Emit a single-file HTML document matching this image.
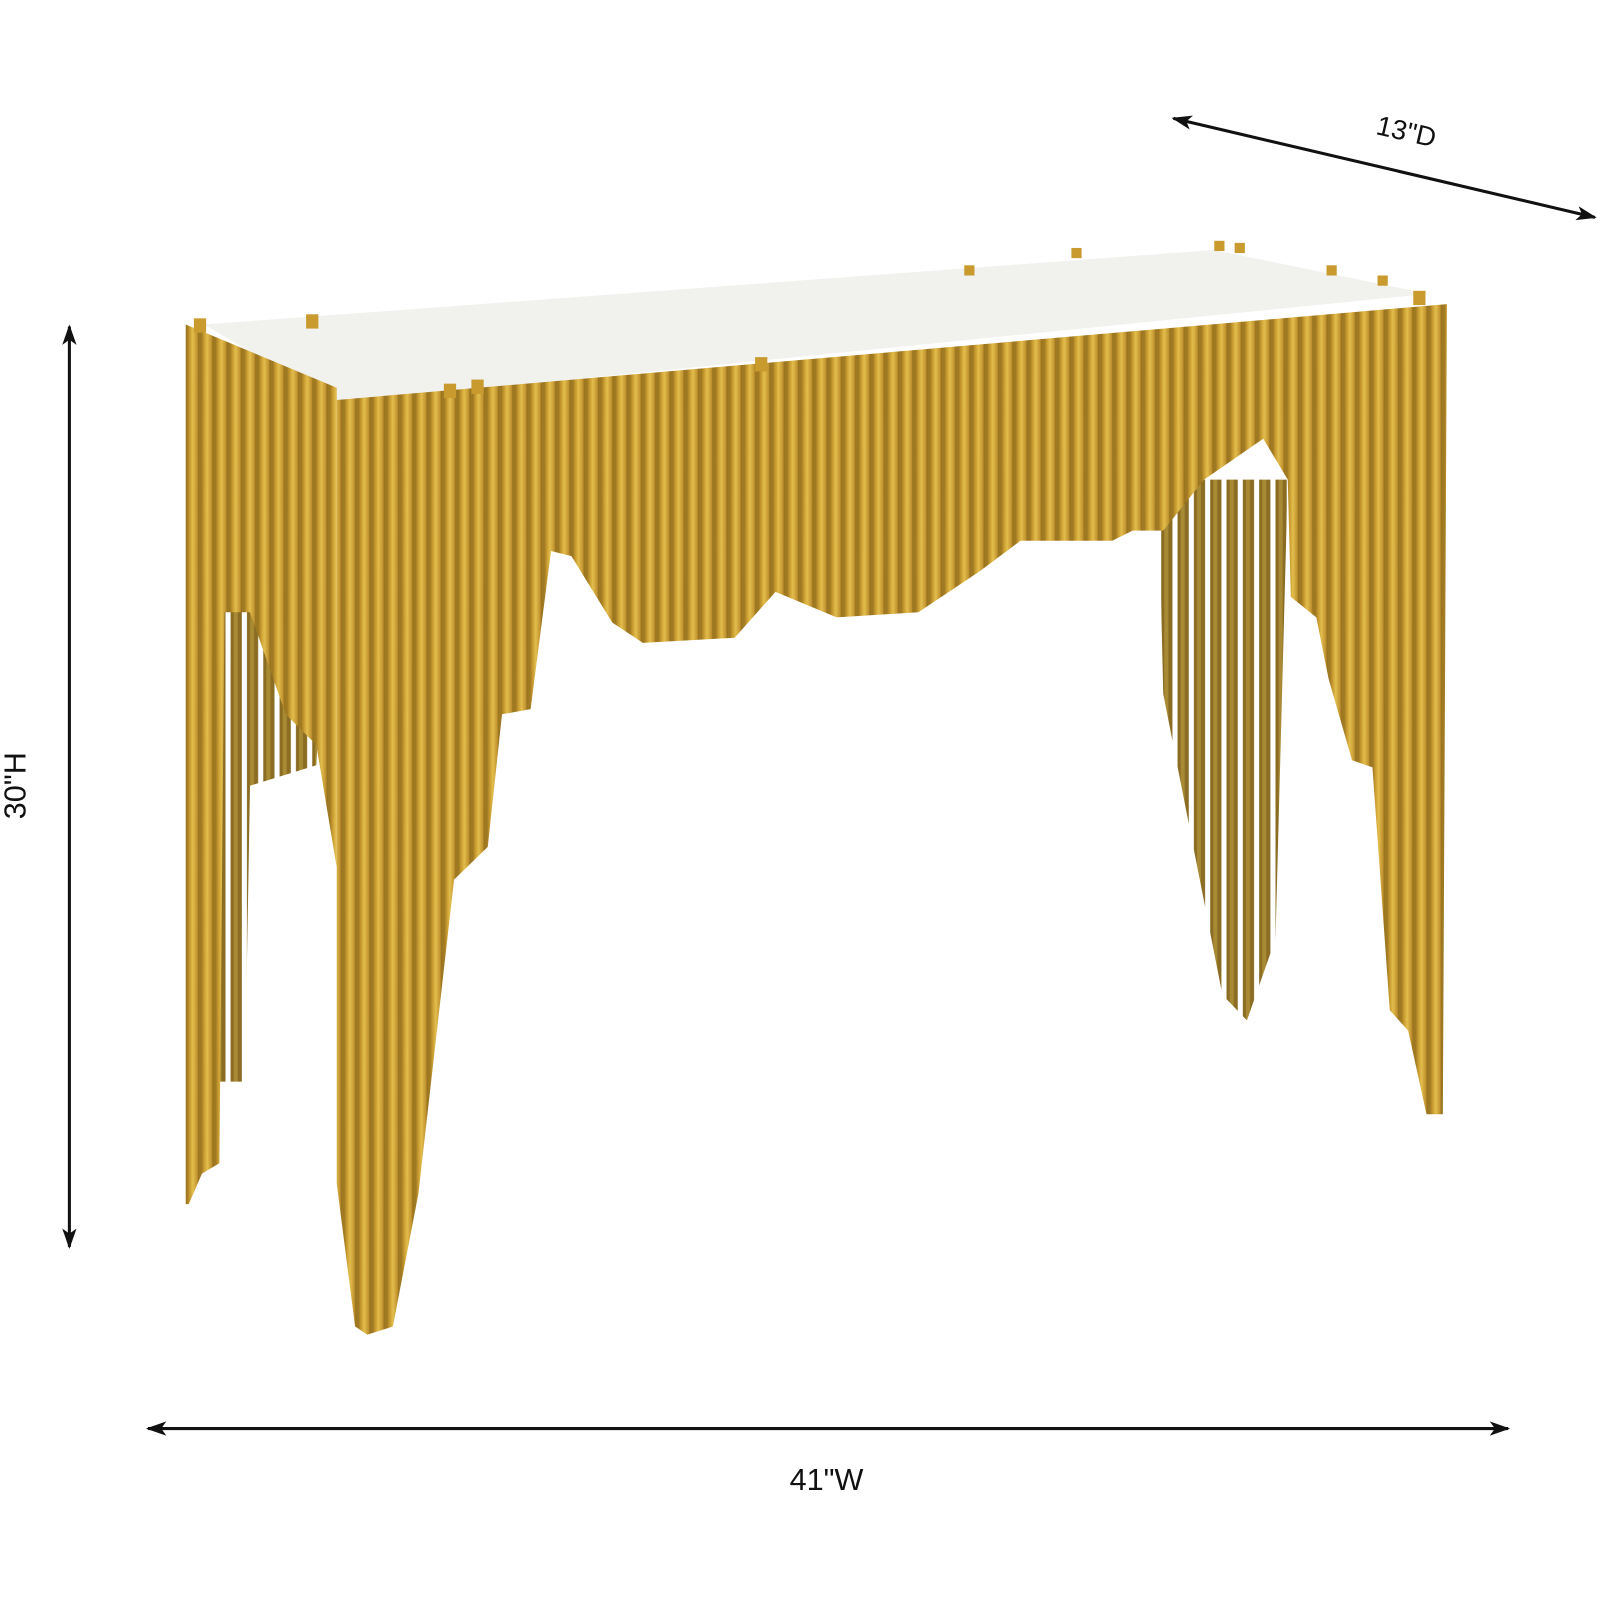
<!DOCTYPE html>
<html><head><meta charset="utf-8"><style>
html,body{margin:0;padding:0;background:#fff}
svg{display:block}
text{font-family:"Liberation Sans",sans-serif;fill:#111}
</style></head><body>
<svg width="1600" height="1600" viewBox="0 0 1600 1600" xmlns="http://www.w3.org/2000/svg">
<defs>
<marker id="ah" viewBox="0 0 20 14" refX="18" refY="7" markerWidth="20" markerHeight="14" markerUnits="userSpaceOnUse" orient="auto-start-reverse">
<path d="M0,0 L20,7 L0,14 L5,7 Z" fill="#111"/>
</marker>
<linearGradient id="rod" x1="0" x2="1">
<stop offset="0" stop-color="#9a7420"/>
<stop offset="0.25" stop-color="#c99c30"/>
<stop offset="0.5" stop-color="#e2bd4c"/>
<stop offset="0.85" stop-color="#c29430"/>
<stop offset="1" stop-color="#8e6a1a"/>
</linearGradient>
<pattern id="rods" width="14" height="40" patternUnits="userSpaceOnUse">
<rect width="14" height="40" fill="#a07a22"/>
<rect x="1" width="12" height="40" fill="url(#rod)"/>
</pattern>
<pattern id="rods2" width="16" height="40" patternUnits="userSpaceOnUse">
<rect width="16" height="40" fill="#fff"/>
<rect x="2" width="11" height="40" fill="#8a6c22"/>
<rect x="5" width="4" height="40" fill="#a88a34"/>
</pattern>
</defs>
<g transform="scale(1.0204)">
<polygon points="200,318 1190,245 1400,288 330,395" fill="#f1f1ee"/>
<polygon points="1135,470 1262,470 1250,920 1222,1000 1198,975 1140,680" fill="url(#rods2)"/>
<polygon points="215,560 320,560 310,750 245,770 240,1060 215,1060" fill="url(#rods2)"/>
<polygon points="182,318 330,380 330,850 310,730 280,700 245,600 220,600 215,1140 198,1150 185,1180 182,1180" fill="url(#rods)"/>
<polygon points="330,392 1418,298 1414,1092 1398,1092 1380,1010 1362,990 1345,752 1325,745 1302,665 1290,605 1265,585 1262,470 1238,430 1180,470 1140,520 1110,520 1090,530 1000,530 960,560 900,600 820,605 760,580 720,625 630,630 600,610 560,545 540,540 520,695 492,700 478,830 445,862 410,1170 385,1300 360,1308 348,1300 330,1160" fill="url(#rods)"/>
<g fill="#c99a2e">
<rect x="190" y="312" width="12" height="14"/><rect x="300" y="308" width="12" height="14"/>
<rect x="435" y="376" width="12" height="14"/><rect x="462" y="372" width="12" height="14"/>
<rect x="740" y="350" width="12" height="14"/><rect x="945" y="260" width="10" height="10"/>
<rect x="1050" y="243" width="10" height="10"/><rect x="1190" y="236" width="10" height="10"/>
<rect x="1210" y="238" width="10" height="10"/><rect x="1300" y="260" width="10" height="10"/>
<rect x="1350" y="270" width="10" height="10"/><rect x="1385" y="285" width="12" height="14"/>
</g>
<line x1="1150" y1="116" x2="1563" y2="213" stroke="#111" stroke-width="3" marker-start="url(#ah)" marker-end="url(#ah)"/>
<text x="1378" y="138" font-size="27" text-anchor="middle" transform="rotate(13 1378 130)">13"D</text>
<line x1="68" y1="320" x2="68" y2="1222" stroke="#111" stroke-width="3" marker-start="url(#ah)" marker-end="url(#ah)"/>
<text x="15" y="770" font-size="30" text-anchor="middle" transform="rotate(-90 15 770) translate(0 10)">30"H</text>
<line x1="145" y1="1400" x2="1478" y2="1400" stroke="#111" stroke-width="3" marker-start="url(#ah)" marker-end="url(#ah)"/>
<text x="810" y="1460" font-size="30" text-anchor="middle">41"W</text>
</g>
</svg>
</body></html>
